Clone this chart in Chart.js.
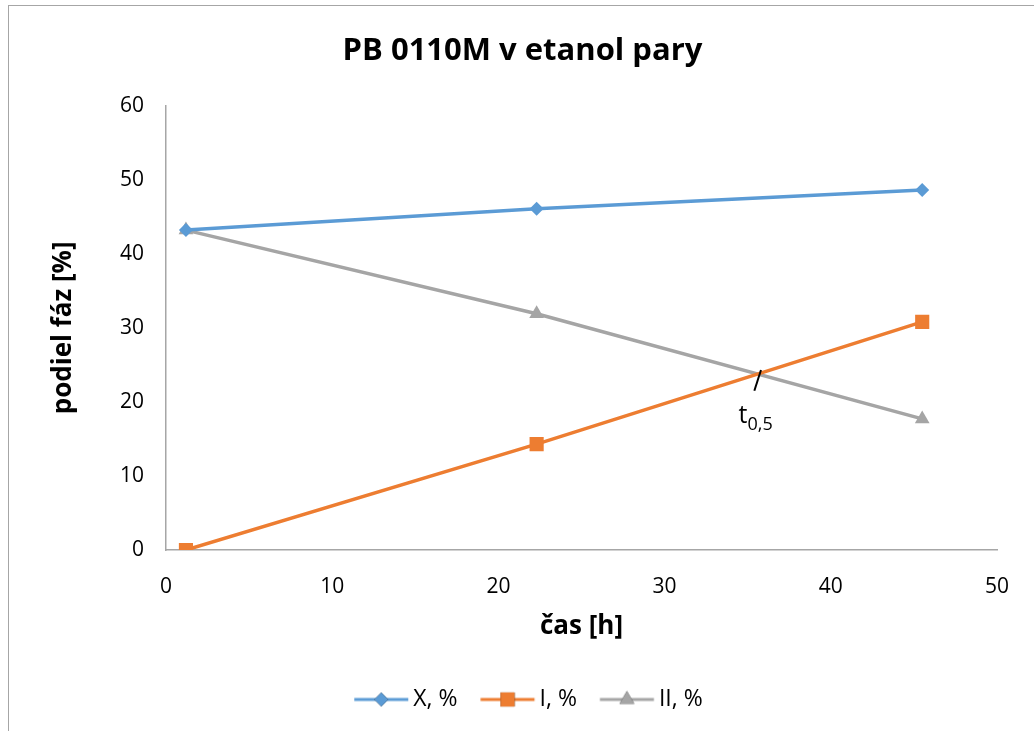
<!DOCTYPE html>
<html>
<head>
<meta charset="utf-8">
<title>PB 0110M v etanol pary</title>
<script src="https://cdn.jsdelivr.net/npm/chart.js@4/dist/chart.umd.min.js"></script>
<style>
  html, body { margin: 0; padding: 0; background: #ffffff; }
  #frame { position: absolute; left: 8px; top: 5px; width: 1100px; height: 800px;
           border-left: 1.5px solid #a6a6a6; border-top: 1.5px solid #a6a6a6; box-sizing: border-box; }
  #wrap { position: absolute; left: 0; top: 0; width: 1034px; height: 731px; }
</style>
</head>
<body>
<div id="frame"></div>
<div id="wrap"><canvas id="chart" width="1034" height="731"></canvas></div>
<script>
// Measurement times [h] and phase shares [%]
const hours = [1.2, 22.3, 45.5];
const phaseX = [43.2, 46.1, 48.6];
const phaseI = [0, 14.3, 30.8];
const phaseII = [43.2, 31.9, 17.7];
const seriesNames = ['X, %', 'I, %', 'II, %'];
const xTicks = [0, 10, 20, 30, 40, 50];
const yTicks = [0, 10, 20, 30, 40, 50, 60];

const FONT = "'Open Sans', 'Liberation Sans', sans-serif";
const BLUE = '#5b9bd5', ORANGE = '#ed7d31', GRAY = '#a5a5a5';

function pts(ys) { return hours.map((h, i) => ({ x: h, y: ys[i] })); }

// Legend swatch: a short line with the series marker in the middle
function swatch(color, style, radius) {
  const c = document.createElement('canvas');
  c.width = 80; c.height = 22;
  const g = c.getContext('2d');
  g.strokeStyle = color; g.lineWidth = 3; g.lineCap = 'butt';
  g.beginPath(); g.moveTo(18.25, 11); g.lineTo(72.25, 11); g.stroke();
  Chart.helpers.drawPoint(g, { pointStyle: style, radius: radius, borderWidth: 0 }, 45.25, 11);
  g.fillStyle = color; g.fill();
  return c;
}

// Crossing marker t0,5 between series I and II
const halfTimeMark = {
  id: 'halfTimeMark',
  afterDatasetsDraw(chart) {
    const { ctx, scales: { x, y } } = chart;
    ctx.save();
    ctx.strokeStyle = '#000000'; ctx.lineWidth = 2;
    ctx.beginPath();
    ctx.moveTo(x.getPixelForValue(35.4), y.getPixelForValue(21.5));
    ctx.lineTo(x.getPixelForValue(35.8), y.getPixelForValue(24.3));
    ctx.stroke();
    ctx.fillStyle = '#000000';
    ctx.textBaseline = 'alphabetic'; ctx.textAlign = 'left';
    const tx = x.getPixelForValue(34.45), ty = y.getPixelForValue(17.1);
    ctx.font = '25px ' + FONT;
    ctx.fillText('t', tx, ty);
    const w = ctx.measureText('t').width;
    ctx.font = '18px ' + FONT;
    ctx.fillText('0,5', tx + w, ty + 7);
    ctx.restore();
  }
};

// Nudge the legend row slightly to the right
const legendShift = {
  id: 'legendShift',
  afterLayout(chart) {
    chart.legend.left += 4;
    chart.legend.right += 4;
  }
};

const markers = [
  { data: phaseX, color: BLUE, style: 'rectRot', r: 7 },
  { data: phaseI, color: ORANGE, style: 'rect', r: 10 },
  { data: phaseII, color: GRAY, style: 'triangle', r: 8.5 }
];

new Chart(document.getElementById('chart'), {
  type: 'line',
  data: {
    datasets: markers.map((m, i) => ({
      label: seriesNames[i],
      data: pts(m.data),
      borderColor: m.color,
      backgroundColor: m.color,
      borderWidth: 3.5,
      pointStyle: m.style,
      pointRadius: m.r,
      pointHoverRadius: m.r,
      pointBorderWidth: 0,
      tension: 0,
      legendImage: swatch(m.color, m.style, m.r)
    }))
  },
  options: {
    responsive: false,
    animation: false,
    layout: { padding: { left: 48, right: 37, top: 0, bottom: 10 } },
    plugins: {
      title: {
        display: true,
        text: 'PB 0110M v etanol pary',
        color: '#000000',
        font: { family: FONT, size: 31, weight: 'bold' },
        padding: { top: 33, bottom: 35.5 }
      },
      legend: {
        position: 'bottom',
        labels: {
          usePointStyle: true,
          pointStyleWidth: 51.5,
          padding: 19,
          color: '#000000',
          font: { family: FONT, size: 23 },
          generateLabels(chart) {
            return chart.data.datasets.map((ds, i) => ({
              text: ds.label,
              pointStyle: ds.legendImage,
              fillStyle: ds.borderColor,
              strokeStyle: ds.borderColor,
              lineWidth: 0,
              hidden: false,
              datasetIndex: i,
              fontColor: '#000000'
            }));
          }
        }
      },
      tooltip: { enabled: false }
    },
    scales: {
      x: {
        type: 'linear',
        min: 0, max: 50,
        afterBuildTicks(s) { s.ticks = xTicks.map(v => ({ value: v })); },
        afterFit(s) { s.height = 119; },
        grid: { display: false, drawTicks: false },
        border: { display: true, color: '#a6a6a6', width: 1.5 },
        ticks: { color: '#000000', padding: 24, font: { family: FONT, size: 21 } },
        title: {
          display: true, text: 'čas [h]', color: '#000000',
          font: { family: FONT, size: 26, weight: 'bold' },
          padding: { top: 4, bottom: 27 }
        }
      },
      y: {
        type: 'linear',
        min: 0, max: 60,
        afterBuildTicks(s) { s.ticks = yTicks.map(v => ({ value: v })); },
        afterFit(s) { s.width = 118; },
        grid: { display: false, drawTicks: false },
        border: { display: true, color: '#a6a6a6', width: 1.5 },
        ticks: { color: '#000000', padding: 22, font: { family: FONT, size: 21 } },
        title: {
          display: true, text: 'podiel fáz [%]', color: '#000000',
          font: { family: FONT, size: 26, weight: 'bold' },
          padding: { top: 0, bottom: 0 }
        }
      }
    }
  },
  plugins: [halfTimeMark, legendShift]
});
</script>
</body>
</html>
